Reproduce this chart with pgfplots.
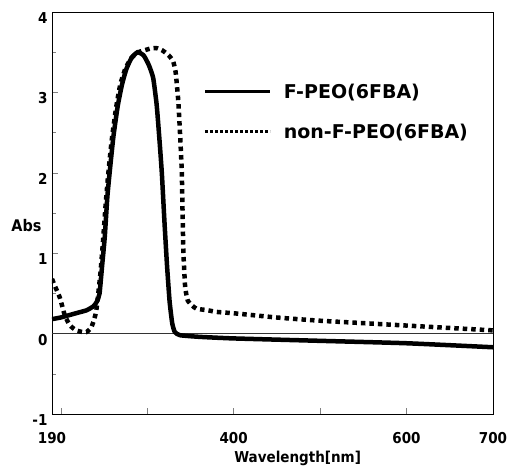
\documentclass[border=0pt]{standalone}
\usepackage{fontspec}
\setmainfont{DejaVu Sans Condensed}
\newfontfamily\legfont{DejaVu Sans}
\usepackage{pgfplots}
\pgfplotsset{compat=1.18}
\begin{document}
\begin{tikzpicture}
\begin{axis}[scale only axis,width=441pt,height=402pt,
 xmin=190,xmax=700,ymin=-1,ymax=4,
 axis line style={line width=0.8pt},
 tick align=inside,xtick pos=bottom,ytick pos=left,
 major tick length=6pt,minor tick length=4pt,
 xtick={200,300,400,500,600,700},xticklabels={,,400,,600,700},
 extra x ticks={190},extra x tick labels={190},extra x tick style={major tick length=0pt},
 ytick={-1,0,1,2,3,4},yticklabels={-1,0,1,2,3,4},minor y tick num=1,
 tick label style={font=\bfseries\fontsize{15}{17}\selectfont},
 xticklabel style={yshift=-15pt},
 yticklabel style={yshift=-6pt,xshift=-1pt},
 xlabel={Wavelength[nm]},ylabel={Abs},
 xlabel style={font=\bfseries\fontsize{15}{17}\selectfont,at={(axis description cs:0.557,-0.12)},anchor=base},
 ylabel style={font=\bfseries\fontsize{16}{18}\selectfont,rotate=-90,at={(axis description cs:-0.058,0.47)},anchor=center},
 legend style={draw=none,fill=none,at={(axis description cs:0.337,0.752)},anchor=west,
  font=\legfont\bfseries\fontsize{19}{22}\selectfont,row sep=20pt,
  /tikz/every odd column/.append style={column sep=10pt}},
 legend cell align=left,
 legend image code/.code={\draw[#1] (0pt,0pt) -- (65pt,0pt);}]
% zero line
\addplot[forget plot,line width=0.5pt,black!80] coordinates {(190,0) (700,0)};
% F-PEO(6FBA)
\addplot[forget plot,line width=4.5pt,black,smooth,tension=0.3] coordinates {
(190,0.18)(200,0.2)(210,0.23)(220,0.26)(230,0.29)(238,0.34)(242,0.4)(245,0.5)(248,0.85)(251,1.2)(254,1.7)
(257,2.04)(261,2.45)(266,2.83)(271,3.1)(276,3.29)(282,3.43)(289,3.5)(296,3.46)(302,3.34)(307,3.18)
(311,2.85)(314,2.45)(317,2.0)(320,1.4)(323,0.85)(326,0.4)(329,0.13)(332,0.02)(338,-0.02)(360,-0.04)
(400,-0.06)(500,-0.09)(600,-0.12)(700,-0.17)};
% non-F-PEO(6FBA)
\addplot[forget plot,line width=4.5pt,black,dash pattern=on 4.5pt off 4pt,smooth,tension=0.3] coordinates {
(190,0.68)(193,0.6)(199,0.45)(205,0.22)(211,0.1)(218,0.04)(225,0.02)(230,0.02)(235,0.07)(238,0.15)
(241,0.27)(243,0.45)(246,0.75)(249,1.15)(252,1.6)(255,1.98)(259,2.4)(264,2.8)(269,3.1)(275,3.3)
(282,3.43)(290,3.5)(299,3.53)(305,3.55)(311,3.55)(318,3.52)(325,3.46)(330,3.39)(333,3.25)(336,2.9)
(338,2.5)(340,2.04)(341,1.5)(342,1.0)(344,0.58)(347,0.41)(352,0.35)(357,0.31)(370,0.29)(380,0.27)
(403,0.25)(450,0.2)(500,0.16)(550,0.13)(600,0.1)(650,0.07)(700,0.04)};
\addlegendimage{black,line width=3pt}
\addlegendentry{F-PEO(6FBA)}
\addlegendimage{black,line width=3pt,dash pattern=on 2.5pt off 2.5pt}
\addlegendentry{non-F-PEO(6FBA)}
\end{axis}
\path (current axis.south west) ++(-52pt,-53pt);
\path (current axis.north east) ++(22pt,12pt);
\end{tikzpicture}
\end{document}
